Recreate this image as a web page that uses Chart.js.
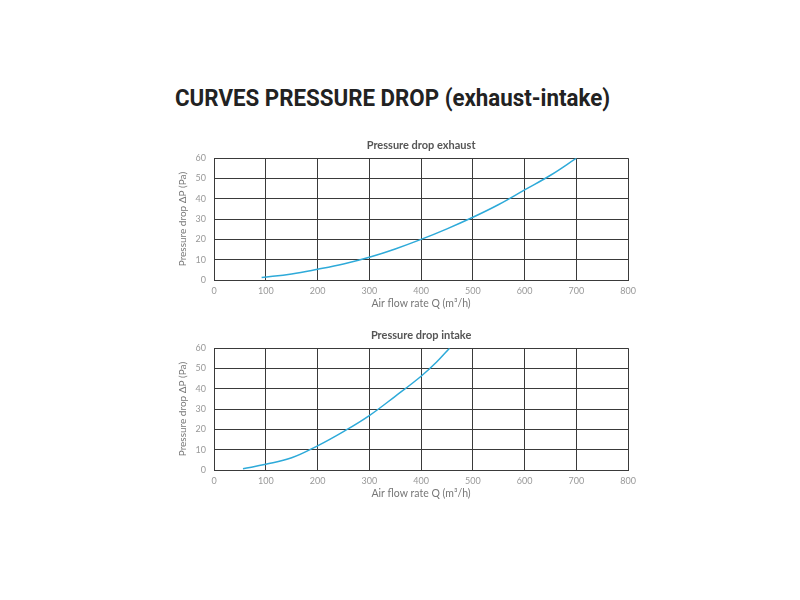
<!DOCTYPE html>
<html>
<head>
<meta charset="utf-8">
<script src="https://cdn.jsdelivr.net/npm/chart.js@4"></script>
<style>
  body { margin: 0; background: #fff; width: 800px; height: 600px; position: relative; overflow: hidden; }
  #title { position: absolute; left: 175px; top: 84px; font-family: Roboto, sans-serif; font-weight: bold;
           font-size: 24px; color: #222; white-space: nowrap; transform-origin: left center; }
  .box { position: absolute; left: 177px; width: 465px; height: 180px; }
</style>
</head>
<body>
<div id="title">CURVES PRESSURE DROP (exhaust-intake)</div>
<div class="box" style="top:130px"><canvas id="exhaustChart"></canvas></div>
<div class="box" style="top:320px"><canvas id="intakeChart"></canvas></div>
<script>
// values
const exhaustFlow = [92, 150, 200, 250, 300, 350, 400, 450, 500, 550, 600, 650, 700];
const exhaustDrop = [1.2, 3, 5.3, 7.9, 11.2, 15.3, 20, 25.2, 30.9, 37.2, 44.4, 51.6, 60];
const intakeFlow = [56, 100, 150, 200, 250, 300, 350, 400, 430, 455];
const intakeDrop = [0.65, 2.8, 6.0, 11.9, 18.9, 26.8, 36.3, 46.2, 53.2, 60];

const flowTicks = [0, 100, 200, 300, 400, 500, 600, 700, 800];
const dropTicks = [0, 10, 20, 30, 40, 50, 60];

const font = 'Lato, "DejaVu Sans", sans-serif';

function makeChart(id, title, flow, drop) {
  const ctx = document.getElementById(id).getContext('2d');
  return new Chart(ctx, {
    type: 'scatter',
    data: {
      datasets: [{
        data: flow.map((q, i) => ({ x: q, y: drop[i] })),
        showLine: true,
        borderColor: '#2eaad9',
        borderWidth: 1.5,
        pointRadius: 0,
        tension: 0.4,
        fill: false
      }]
    },
    options: {
      responsive: true,
      maintainAspectRatio: false,
      animation: false,
      layout: { padding: { left: 0, right: 12, top: 0, bottom: 0 } },
      plugins: {
        legend: { display: false },
        tooltip: { enabled: false },
        title: {
          display: true,
          text: title,
          fullSize: false,
          color: '#555',
          font: { family: font, size: 11, weight: 'bold' },
          padding: { top: 9, bottom: 6 }
        }
      },
      scales: {
        x: {
          type: 'linear',
          min: 0,
          max: 800,
          afterBuildTicks: s => { s.ticks = flowTicks.map(v => ({ value: v })); },
          afterFit: s => { s.height = 30; },
          grid: { color: '#3a3a3a', lineWidth: 1, drawTicks: false },
          border: { color: '#3a3a3a' },
          ticks: { color: '#999', font: { family: font, size: 9 }, padding: 6, maxRotation: 0 },
          title: {
            display: true,
            text: 'Air flow rate Q (m³/h)',
            color: '#777',
            font: { family: font, size: 10.5 },
            padding: 0
          }
        },
        y: {
          type: 'linear',
          min: 0,
          max: 60,
          afterBuildTicks: s => { s.ticks = dropTicks.map(v => ({ value: v })); },
          afterFit: s => { s.width = 37; },
          grid: { color: '#3a3a3a', lineWidth: 1, drawTicks: false },
          border: { color: '#3a3a3a' },
          ticks: { color: '#999', font: { family: font, size: 9 }, padding: 8 },
          title: {
            display: true,
            text: 'Pressure drop ΔP (Pa)',
            color: '#777',
            font: { family: font, size: 10 },
            padding: 0
          }
        }
      }
    }
  });
}

makeChart('exhaustChart', 'Pressure drop exhaust', exhaustFlow, exhaustDrop);
makeChart('intakeChart', 'Pressure drop intake', intakeFlow, intakeDrop);

// stretch the heading to the width it has in the picture
const t = document.getElementById('title');
t.style.transform = 'scaleX(' + (435 / t.offsetWidth) + ')';
</script>
</body>
</html>
